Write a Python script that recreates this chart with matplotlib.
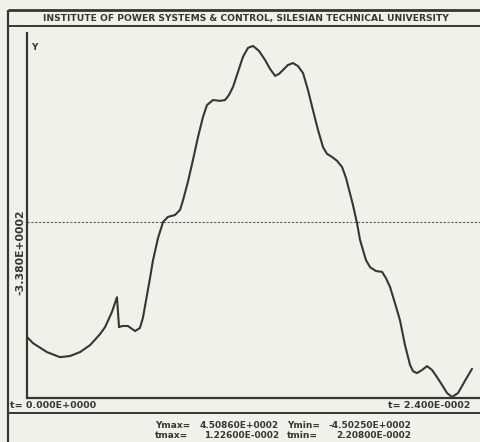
import matplotlib
matplotlib.use("Agg")
import matplotlib.pyplot as plt
from matplotlib.lines import Line2D

# ---- data ----
t_values = [0.0, 0.00032, 0.00107, 0.00177, 0.00230, 0.00284, 0.00338, 0.00391,
            0.00418, 0.00455, 0.00482, 0.00493, 0.00509, 0.00541, 0.00579, 0.00605,
            0.00621, 0.00643, 0.00659, 0.00675, 0.00702, 0.00729, 0.00755, 0.00793,
            0.00820, 0.00836, 0.00862, 0.00889, 0.00916, 0.00943, 0.00964, 0.00996,
            0.01034, 0.01061, 0.01082, 0.01104, 0.01130, 0.01157, 0.01184, 0.01211,
            0.01243, 0.01275, 0.01302, 0.01329, 0.01350, 0.01371, 0.01398, 0.01425,
            0.01452, 0.01479, 0.01505, 0.01532, 0.01559, 0.01586, 0.01607, 0.01634,
            0.01661, 0.01688, 0.01709, 0.01730, 0.01746, 0.01768, 0.01784, 0.01800,
            0.01816, 0.01838, 0.01870, 0.01902, 0.01923, 0.01945, 0.01971, 0.01998,
            0.02025, 0.02052, 0.02068, 0.02089, 0.02116, 0.02143, 0.02170, 0.02196,
            0.02223, 0.02250, 0.02277, 0.02309, 0.02346, 0.02384]
y_values = [-296, -312, -335, -348, -345, -335, -317, -289,
            -271, -232, -194, -271, -268, -268, -281, -273,
            -247, -188, -145, -99, -42, -1, 12, 17,
            30, 55, 102, 158, 217, 269, 299, 312,
            310, 312, 325, 346, 384, 423, 446, 450.86,
            438, 415, 392, 374, 379, 389, 402, 407,
            399, 381, 338, 286, 235, 191, 174, 166,
            156, 140, 112, 73, 43, -4, -47, -73,
            -99, -117, -127, -129, -145, -168, -209, -253,
            -317, -368, -384, -389, -381, -371, -381, -399,
            -419, -440, -450.25, -440, -409, -378]

title = "INSTITUTE OF POWER SYSTEMS & CONTROL, SILESIAN TECHNICAL UNIVERSITY"
y_label = "Y"
side_label = "-3.380E+0002"
t_start_label = "t= 0.000E+0000"
t_end_label = "t= 2.400E-0002"
stat_names = ["Ymax=", "Ymin=", "tmax=", "tmin="]
stat_values = ["4.50860E+0002", "-4.50250E+0002", "1.22600E-0002", "2.20800E-0002"]

W, H = 480, 442
BG = "#f2f1e9"
INK = "#363633"

fig = plt.figure(figsize=(W / 100, H / 100), dpi=100, facecolor=BG)

def fx(px):
    return px / W

def fy(py):
    return 1 - py / H

def hline(y, x0, x1, lw=1.6):
    fig.add_artist(Line2D([fx(x0), fx(x1)], [fy(y), fy(y)], color=INK, lw=lw,
                          transform=fig.transFigure, solid_capstyle="butt"))

def vline(x, y0, y1, lw=1.6):
    fig.add_artist(Line2D([fx(x), fx(x)], [fy(y0), fy(y1)], color=INK, lw=lw,
                          transform=fig.transFigure, solid_capstyle="butt"))

# frames
hline(10, 8, 480, lw=2.0)
hline(26, 8, 480, lw=1.4)
vline(8, 10, 442, lw=1.6)
hline(413, 8, 480, lw=1.4)

# plot axes
ax_l, ax_r, ax_t, ax_b = 27, 480, 33, 398
ax = fig.add_axes([fx(ax_l), fy(ax_b), fx(ax_r) - fx(ax_l), fy(ax_t) - fy(ax_b)])
ax.set_facecolor("none")
ax.set_xlim(0, (ax_r - ax_l) * 0.024 / 448)
ax.set_ylim(-452.8, 484.1)
for s in ["top", "right"]:
    ax.spines[s].set_visible(False)
for s in ["left", "bottom"]:
    ax.spines[s].set_color(INK)
    ax.spines[s].set_linewidth(1.6)
ax.set_xticks([])
ax.set_yticks([])
ax.axhline(0, color=INK, lw=0.8, ls=(0, (2, 1.5)), alpha=0.8)
ax.plot(t_values, y_values, color=INK, lw=1.5, solid_joinstyle="round",
        solid_capstyle="round", clip_on=True)

fam = ["Liberation Sans Narrow", "DejaVu Sans"]
fig.text(fx(246), fy(18), title, ha="center", va="center", fontsize=6.6,
         family=fam, color=INK, fontweight="bold")
fig.text(fx(31), fy(48), y_label, ha="left", va="center", fontsize=6.5,
         family=fam, color=INK, fontweight="bold")
fig.text(fx(20), fy(252), side_label, ha="center", va="center", rotation=90,
         fontsize=7.8, family=fam, color=INK, fontweight="bold")
fig.text(fx(10), fy(406), t_start_label, ha="left", va="center", fontsize=6.8,
         family=fam, color=INK, fontweight="bold")
fig.text(fx(470), fy(406), t_end_label, ha="right", va="center", fontsize=6.8,
         family=fam, color=INK, fontweight="bold")

rows = [(425, 0, 1), (436, 2, 3)]
for py, i, j in rows:
    fig.text(fx(155), fy(py), stat_names[i], ha="left", va="center", fontsize=6.5,
             family=fam, color=INK, fontweight="bold")
    fig.text(fx(279), fy(py), stat_values[i], ha="right", va="center", fontsize=6.5,
             family=fam, color=INK, fontweight="bold")
    fig.text(fx(287), fy(py), stat_names[j], ha="left", va="center", fontsize=6.5,
             family=fam, color=INK, fontweight="bold")
    fig.text(fx(411), fy(py), stat_values[j], ha="right", va="center", fontsize=6.5,
             family=fam, color=INK, fontweight="bold")

fig.savefig("out.png", dpi=100, facecolor=BG)
